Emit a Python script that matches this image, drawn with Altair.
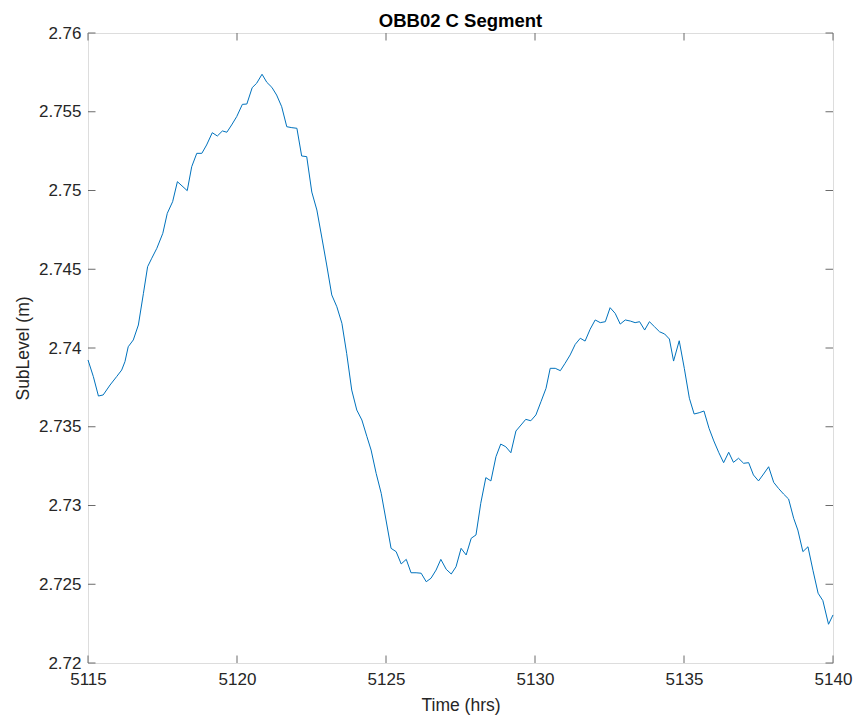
import altair as alt
import pandas as pd

# Sub-surface level record, 10-minute samples
time_hrs = [
    5115.00, 5115.18, 5115.35, 5115.51, 5115.74, 5115.96, 5116.13, 5116.24, 5116.35, 5116.52,
    5116.69, 5116.86, 5117.00, 5117.14, 5117.31, 5117.51, 5117.66, 5117.84, 5118.00, 5118.33,
    5118.48, 5118.65, 5118.82, 5118.98, 5119.17, 5119.34, 5119.51, 5119.66, 5119.82, 5119.99,
    5120.18, 5120.33, 5120.51, 5120.66, 5120.84, 5121.00, 5121.17, 5121.33, 5121.50, 5121.67,
    5121.84, 5122.01, 5122.17, 5122.34, 5122.51, 5122.68, 5122.85, 5123.01, 5123.18, 5123.35,
    5123.52, 5123.68, 5123.85, 5124.02, 5124.19, 5124.36, 5124.50, 5124.67, 5124.84, 5125.00,
    5125.17, 5125.34, 5125.51, 5125.68, 5125.84, 5126.01, 5126.18, 5126.35, 5126.51, 5126.68,
    5126.84, 5127.02, 5127.19, 5127.35, 5127.52, 5127.69, 5127.86, 5128.02, 5128.18, 5128.35,
    5128.52, 5128.69, 5128.85, 5129.02, 5129.19, 5129.36, 5129.53, 5129.69, 5129.86, 5130.03,
    5130.20, 5130.37, 5130.51, 5130.68, 5130.85, 5131.01, 5131.18, 5131.35, 5131.52, 5131.68,
    5131.85, 5132.02, 5132.19, 5132.36, 5132.52, 5132.69, 5132.86, 5133.03, 5133.20, 5133.36,
    5133.51, 5133.68, 5133.84, 5134.01, 5134.18, 5134.35, 5134.51, 5134.65, 5134.84, 5135.01,
    5135.18, 5135.34, 5135.51, 5135.67, 5135.84, 5136.00, 5136.17, 5136.33, 5136.50, 5136.66,
    5136.83, 5137.00, 5137.17, 5137.33, 5137.50, 5137.67, 5137.84, 5138.01, 5138.17, 5138.34,
    5138.51, 5138.68, 5138.82, 5138.99, 5139.16, 5139.33, 5139.50, 5139.66, 5139.85, 5140.00,
]

sub_level_m = [
    2.73924, 2.73818, 2.73695, 2.73702, 2.73765, 2.73818, 2.73860, 2.73913, 2.74008, 2.74051,
    2.74146, 2.74347, 2.74516, 2.74570, 2.74633, 2.74728, 2.74855, 2.74929, 2.75056, 2.74999,
    2.75151, 2.75236, 2.75236, 2.75289, 2.75367, 2.75346, 2.75378, 2.75370, 2.75416, 2.75469,
    2.75547, 2.75549, 2.75653, 2.75681, 2.75738, 2.75687, 2.75655, 2.75606, 2.75532, 2.75405,
    2.75399, 2.75395, 2.75219, 2.75215, 2.74990, 2.74876, 2.74698, 2.74527, 2.74337, 2.74262,
    2.74157, 2.73966, 2.73733, 2.73606, 2.73543, 2.73437, 2.73352, 2.73204, 2.73077, 2.72908,
    2.72728, 2.72707, 2.72629, 2.72658, 2.72573, 2.72573, 2.72570, 2.72516, 2.72538, 2.72590,
    2.72658, 2.72595, 2.72565, 2.72611, 2.72728, 2.72686, 2.72792, 2.72813, 2.73014, 2.73177,
    2.73156, 2.73310, 2.73390, 2.73373, 2.73335, 2.73473, 2.73511, 2.73547, 2.73538, 2.73575,
    2.73659, 2.73744, 2.73871, 2.73871, 2.73856, 2.73903, 2.73956, 2.74023, 2.74062, 2.74044,
    2.74119, 2.74178, 2.74161, 2.74167, 2.74256, 2.74220, 2.74152, 2.74178, 2.74171, 2.74161,
    2.74167, 2.74114, 2.74167, 2.74135, 2.74103, 2.74089, 2.74057, 2.73917, 2.74046, 2.73871,
    2.73681, 2.73581, 2.73589, 2.73600, 2.73490, 2.73410, 2.73335, 2.73272, 2.73338, 2.73274,
    2.73300, 2.73268, 2.73272, 2.73194, 2.73156, 2.73200, 2.73246, 2.73147, 2.73109, 2.73073,
    2.73041, 2.72919, 2.72844, 2.72707, 2.72738, 2.72586, 2.72443, 2.72396, 2.72246, 2.72305,
]

x_ticks = [5115, 5120, 5125, 5130, 5135, 5140]
y_ticks = [2.72, 2.725, 2.73, 2.735, 2.74, 2.745, 2.75, 2.755, 2.76]
chart_title = ["OBB02 C Segment"]

W, H = 745, 630
TICK = 7.5
FONT = "Liberation Sans"
AXIS_GREY = "#6b6b6b"
TEXT = "#262626"

df = pd.DataFrame({"t": time_hrs, "level": sub_level_m})
xt = pd.DataFrame({"t": x_ticks})
yt = pd.DataFrame({"level": y_ticks})
tt = pd.DataFrame({"label": chart_title})

xscale = alt.Scale(domain=[5115, 5140], nice=False, zero=False)
yscale = alt.Scale(domain=[2.72, 2.76], nice=False, zero=False)

x_axis = alt.Axis(
    values=x_ticks, format="d", title="Time (hrs)", grid=False,
    ticks=False, domain=False, labelPadding=8, titlePadding=9, labelFlush=False,
    labelFont=FONT, labelFontSize=17, labelColor=TEXT,
    titleFont=FONT, titleFontSize=17.5, titleFontWeight="normal", titleColor=TEXT,
)
y_axis = alt.Axis(
    values=y_ticks, format=".3~f", title="SubLevel (m)", grid=False,
    ticks=False, domain=False, labelPadding=7, titlePadding=6, labelFlush=False,
    labelFont=FONT, labelFontSize=17, labelColor=TEXT,
    titleFont=FONT, titleFontSize=17.5, titleFontWeight="normal", titleColor=TEXT,
)

X = alt.X("t:Q", scale=xscale, axis=x_axis)
Y = alt.Y("level:Q", scale=yscale, axis=y_axis)

line = alt.Chart(df).mark_line(color="#0072BD", strokeWidth=1).encode(x=X, y=Y)

# Inward-pointing ticks on all four sides of the box
x_bottom = alt.Chart(xt).mark_rule(color=AXIS_GREY, strokeWidth=1).encode(
    x=X, y=alt.value(H), y2=alt.value(H - TICK)
)
x_top = alt.Chart(xt).mark_rule(color=AXIS_GREY, strokeWidth=1).encode(
    x=X, y=alt.value(0), y2=alt.value(TICK)
)
y_left = alt.Chart(yt).mark_rule(color=AXIS_GREY, strokeWidth=1).encode(
    y=Y, x=alt.value(0), x2=alt.value(TICK)
)
y_right = alt.Chart(yt).mark_rule(color=AXIS_GREY, strokeWidth=1).encode(
    y=Y, x=alt.value(W - TICK), x2=alt.value(W)
)

# Bold heading centred over the plot area
heading = alt.Chart(tt).mark_text(
    font=FONT, fontSize=18.5, fontWeight="bold", color="#000000",
    align="center", baseline="alphabetic",
).encode(text="label:N", x=alt.value(W / 2), y=alt.value(-6))

chart = (
    alt.layer(line, x_bottom, x_top, y_left, y_right, heading)
    .properties(
        width=W,
        height=H,
        autosize=alt.AutoSizeParams(type="none"),
        padding={"left": 88, "top": 33, "right": 24, "bottom": 58},
    )
    .configure_view(stroke=AXIS_GREY, strokeWidth=1)
    .configure(background="white")
)

chart.save("out.html", embed_options={"renderer": "svg", "actions": False})
